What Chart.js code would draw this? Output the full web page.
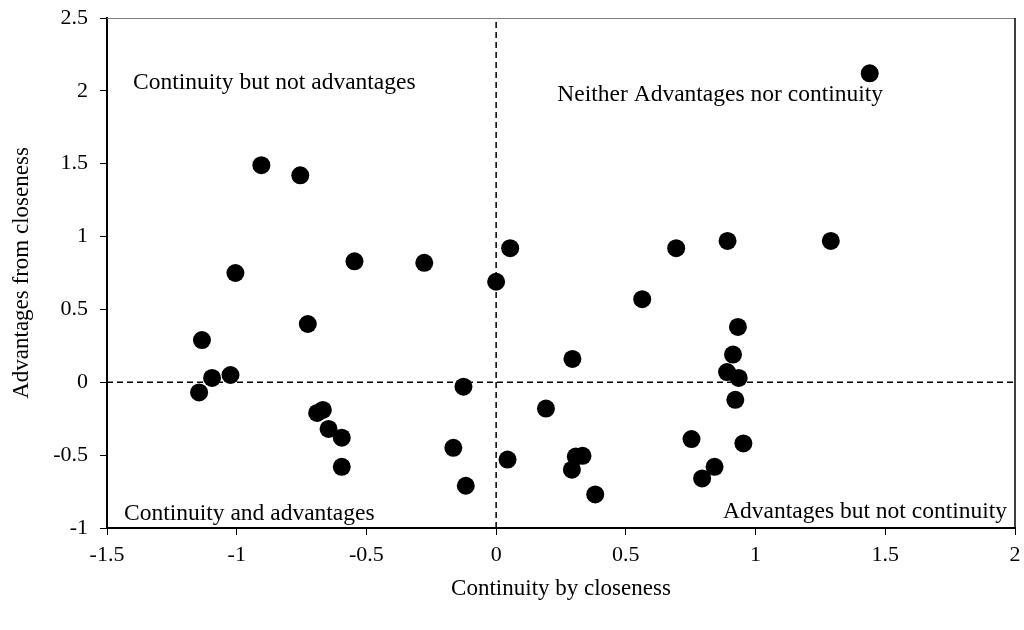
<!DOCTYPE html>
<html><head><meta charset="utf-8">
<script src="https://cdn.jsdelivr.net/npm/chart.js@4"></script>
<style>html,body{margin:0;padding:0;background:#fff}#wrap{width:1024px;height:630px}</style>
</head><body><div id="wrap"><canvas id="c" width="1024" height="630"></canvas></div>
<script>
// ---- data ----
const continuity = [1.44, -0.905, -0.755, -0.546, -0.277, -1.005, -0.726, -1.134, 0.054, 0.0,
  0.694, 0.563, 0.294, -0.126, 0.892, 1.29, 0.932, 0.913, 0.89, 0.935,
  0.922, 0.192, -0.165, -0.117, 0.044, 0.307, 0.333, 0.292, 0.382, 0.753,
  0.953, 0.842, 0.794, -1.095, -1.024, -1.145, -0.69, -0.668, -0.646, -0.595, -0.595];
const advantages = [2.12, 1.49, 1.42, 0.83, 0.82, 0.75, 0.40, 0.29, 0.92, 0.69,
  0.92, 0.57, 0.16, -0.03, 0.97, 0.97, 0.38, 0.19, 0.07, 0.03,
  -0.12, -0.18, -0.45, -0.71, -0.53, -0.51, -0.505, -0.60, -0.77, -0.39,
  -0.42, -0.58, -0.66, 0.03, 0.05, -0.07, -0.21, -0.19, -0.32, -0.38, -0.58];
const xTicks = [-1.5, -1, -0.5, 0, 0.5, 1, 1.5, 2];
const yTicks = [-1, -0.5, 0, 0.5, 1, 1.5, 2, 2.5];
const xTickLabels = ["-1.5", "-1", "-0.5", "0", "0.5", "1", "1.5", "2"];
const yTickLabels = ["-1", "-0.5", "0", "0.5", "1", "1.5", "2", "2.5"];
const vRefX = [0, 0];
const vRefY = [-1, 2.5];
const hRefX = [-1.5, 2];
const hRefY = [0, 0];
const quadrantLabels = ["Continuity but not advantages", "Neither Advantages nor continuity",
  "Continuity and advantages", "Advantages but not continuity"];
const xTitle = "Continuity by closeness";
const yTitle = "Advantages from closeness";

const FONT = "'Liberation Serif', 'Times New Roman', serif";
const points = continuity.map((x, i) => ({x, y: advantages[i]}));
const vLine = vRefX.map((x, i) => ({x, y: vRefY[i]}));
const hLine = hRefX.map((x, i) => ({x, y: hRefY[i]}));

const overlay = {
  id: 'overlay',
  afterDraw(chart) {
    const {ctx, chartArea: ca} = chart;
    ctx.save();
    ctx.strokeStyle = '#808080'; ctx.lineWidth = 1;
    ctx.beginPath(); ctx.moveTo(ca.left, ca.top + 0.5); ctx.lineTo(ca.right, ca.top + 0.5); ctx.stroke();
    ctx.strokeStyle = '#000'; ctx.lineWidth = 1.5;
    ctx.beginPath(); ctx.moveTo(ca.right, ca.top); ctx.lineTo(ca.right, ca.bottom); ctx.stroke();
    ctx.fillStyle = '#000';
    ctx.font = "23.5px " + FONT;
    ctx.textBaseline = 'alphabetic';
    ctx.textAlign = 'left';
    ctx.fillText(quadrantLabels[0], ca.left + 26, ca.top + 71);
    ctx.textAlign = 'right';
    ctx.fillText(quadrantLabels[1], ca.left + 776, ca.top + 83);
    ctx.textAlign = 'left';
    ctx.fillText(quadrantLabels[2], ca.left + 17, ca.bottom - 8);
    ctx.textAlign = 'right';
    ctx.fillText(quadrantLabels[3], ca.right - 8, ca.bottom - 10);
    ctx.restore();
  }
};

new Chart(document.getElementById('c'), {
  type: 'scatter',
  data: {
    datasets: [
      {data: points, pointRadius: 9, pointHoverRadius: 9, backgroundColor: '#000', borderColor: '#000', borderWidth: 0, order: 1},
      {type: 'line', data: vLine, borderColor: '#000', borderWidth: 1.5, borderDash: [6, 4], pointRadius: 0, fill: false, order: 2},
      {type: 'line', data: hLine, borderColor: '#000', borderWidth: 1.5, borderDash: [6, 4], pointRadius: 0, fill: false, order: 2}
    ]
  },
  options: {
    responsive: false, animation: false, devicePixelRatio: 1,
    layout: {padding: {left: 0, right: 4, top: 18, bottom: 0}},
    plugins: {legend: {display: false}, tooltip: {enabled: false}},
    scales: {
      x: {
        type: 'linear', min: -1.5, max: 2,
        afterBuildTicks: s => { s.ticks = xTicks.map(v => ({value: v})); },
        afterFit: s => { s.height = 102; s.paddingLeft = 0; s.paddingRight = 0; },
        ticks: {callback: (v) => xTickLabels[xTicks.indexOf(v)], color: '#000', font: {family: FONT, size: 22}, padding: 7, maxRotation: 0, autoSkip: false},
        grid: {drawOnChartArea: false, drawTicks: true, tickLength: 7, tickColor: '#000', tickWidth: 1},
        border: {display: true, color: '#000', width: 2},
        title: {display: true, text: xTitle, color: '#000', font: {family: FONT, size: 23}, padding: {top: 0, bottom: 27}}
      },
      y: {
        type: 'linear', min: -1, max: 2.5,
        afterBuildTicks: s => { s.ticks = yTicks.map(v => ({value: v})); },
        afterFit: s => { s.width = 107; s.paddingTop = 0; s.paddingBottom = 0; },
        ticks: {callback: (v) => yTickLabels[yTicks.indexOf(v)], color: '#000', font: {family: FONT, size: 22}, padding: 12, autoSkip: false},
        grid: {drawOnChartArea: false, drawTicks: true, tickLength: 7, tickColor: '#000', tickWidth: 1},
        border: {display: true, color: '#000', width: 2},
        title: {display: true, text: yTitle, color: '#000', font: {family: FONT, size: 23}, padding: {top: 8, bottom: 0}}
      }
    }
  },
  plugins: [overlay]
});
</script></body></html>
